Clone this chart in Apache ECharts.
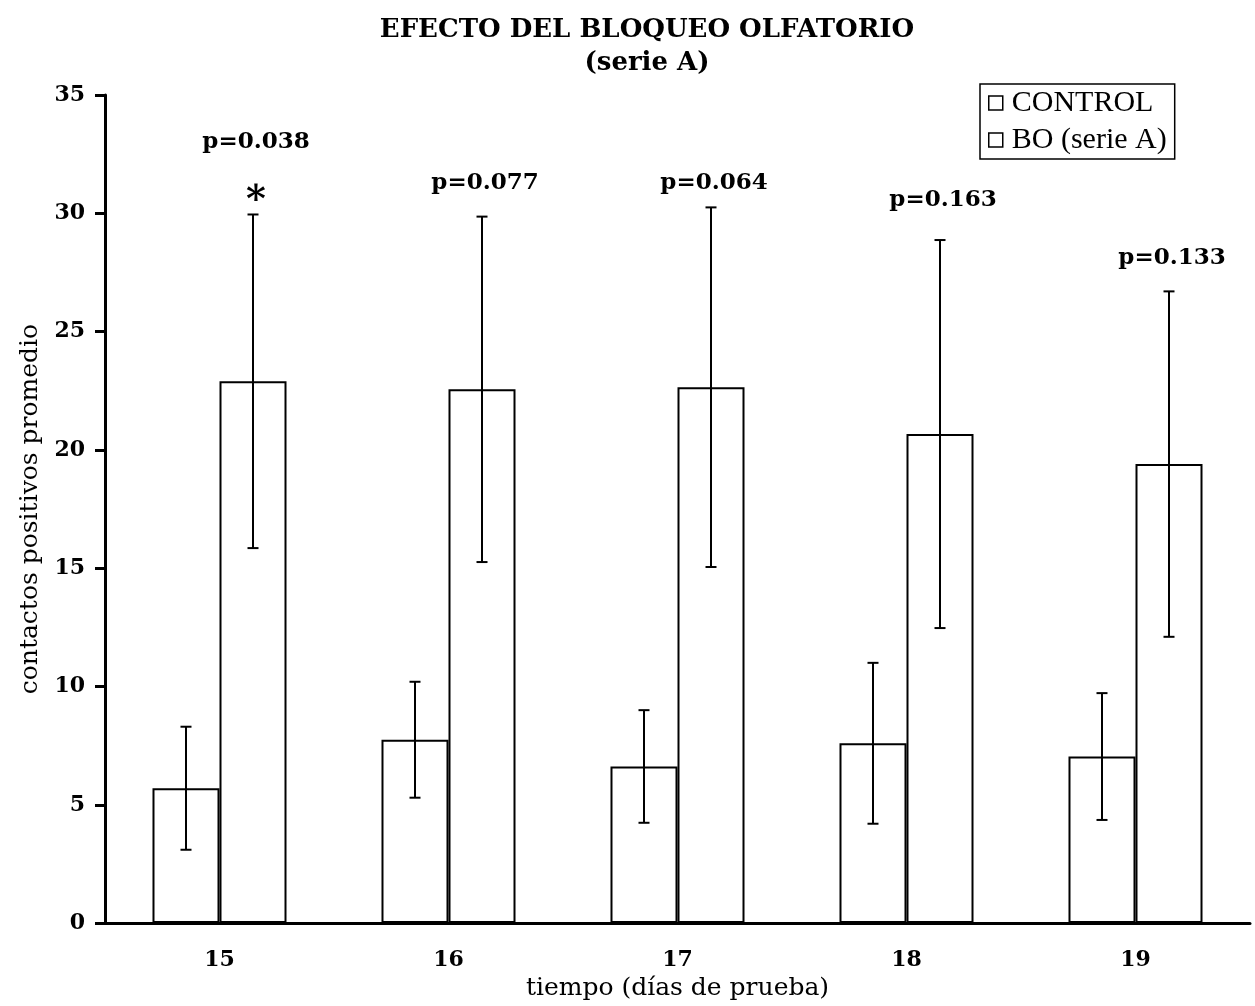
<!DOCTYPE html>
<html>
<head>
<meta charset="utf-8">
<script src="https://cdn.jsdelivr.net/npm/echarts@6/dist/echarts.min.js"></script>
<style>html,body{margin:0;padding:0;background:#fff}#c{width:1255px;height:1006px}</style>
</head>
<body>
<div id="c"></div>
<script>
var categories = ['15', '16', '17', '18', '19'];
var controlMean = [5.7, 7.75, 6.62, 7.6, 7.04];
var controlErr = [2.6, 2.45, 2.38, 3.4, 2.68];
var boMean = [22.9, 22.56, 22.65, 20.67, 19.4];
var boErr = [7.05, 7.3, 7.6, 8.2, 7.3];
var pLabels = ['p=0.038', 'p=0.077', 'p=0.064', 'p=0.163', 'p=0.133'];
var pLabelY = [33.0, 31.3, 31.3, 30.58, 28.13];
var starLabels = ['*', '', '', '', ''];
var starY = [30.5, 0, 0, 0, 0];
var yTicks = [0, 35, 5];

var SERIF = '"DejaVu Serif", serif';
var chart = echarts.init(document.getElementById('c'));

function errData(mean, err) {
  return mean.map(function (m, i) { return [i, m - err[i], m + err[i]]; });
}
function errRender(sign) {
  return function (params, api) {
    var i = api.value(0), lo = api.value(1), hi = api.value(2);
    var band = api.size([1, 0])[0];
    var off = sign * band * 0.1463;
    var p1 = api.coord([i, hi]), p2 = api.coord([i, lo]);
    var cx = p1[0] + off, cap = 5.5;
    var st = { stroke: '#000', lineWidth: 2 };
    return { type: 'group', children: [
      { type: 'line', shape: { x1: cx, y1: p1[1], x2: cx, y2: p2[1] }, style: st },
      { type: 'line', shape: { x1: cx - cap, y1: p1[1], x2: cx + cap, y2: p1[1] }, style: st },
      { type: 'line', shape: { x1: cx - cap, y1: p2[1], x2: cx + cap, y2: p2[1] }, style: st }
    ]};
  };
}
function textRender(labels, size) {
  return function (params, api) {
    var i = api.value(0), y = api.value(1);
    var t = labels[i];
    if (!t) return null;
    var band = api.size([1, 0])[0];
    var p = api.coord([i, y]);
    return { type: 'text', x: p[0] + band * 0.1463 + 3, y: p[1],
      style: { text: t, fill: '#000', font: 'bold ' + size + 'px ' + SERIF, align: 'center', verticalAlign: 'middle' } };
  };
}

var barStyle = { color: '#fff', borderColor: '#000', borderWidth: 2 };

chart.setOption({
  animation: false,
  backgroundColor: '#fff',
  graphic: [
    { type: 'text', x: 647, y: 30, style: { text: 'EFECTO DEL BLOQUEO OLFATORIO', font: 'bold 26px ' + SERIF, fill: '#000', align: 'center', verticalAlign: 'middle' } },
    { type: 'text', x: 647, y: 63, style: { text: '(serie A)', font: 'bold 26px ' + SERIF, fill: '#000', align: 'center', verticalAlign: 'middle' } }
  ],
  legend: {
    orient: 'vertical', left: 980, top: 84,
    padding: [4, 8, 4, 8], itemGap: 7,
    borderColor: '#000', borderWidth: 1.5,
    itemWidth: 14, itemHeight: 14, icon: 'rect',
    itemStyle: { color: '#fff', borderColor: '#000', borderWidth: 1.5 },
    textStyle: { fontFamily: '"Liberation Serif", serif', fontSize: 30, color: '#000', padding: [0, 0, 0, 4] },
    data: ['CONTROL', 'BO (serie A)']
  },
  grid: { left: 105, width: 1145, top: 95, height: 830 },
  xAxis: {
    type: 'category', data: categories,
    axisLine: { lineStyle: { color: '#000', width: 3 } },
    axisTick: { length: 10, lineStyle: { color: '#000', width: 3 } },
    axisLabel: { color: '#000', fontFamily: SERIF, fontWeight: 'bold', fontSize: 22, margin: 26 },
    name: 'tiempo (días de prueba)', nameLocation: 'middle', nameGap: 52,
    nameTextStyle: { color: '#000', fontFamily: SERIF, fontSize: 25 }
  },
  yAxis: {
    type: 'value', min: yTicks[0], max: yTicks[1], interval: yTicks[2],
    axisLine: { show: true, lineStyle: { color: '#000', width: 3 } },
    axisTick: { show: true, length: 10, lineStyle: { color: '#000', width: 3 } },
    splitLine: { show: false },
    axisLabel: { color: '#000', fontFamily: SERIF, fontWeight: 'bold', fontSize: 22, margin: 20 },
    name: 'contactos positivos promedio', nameLocation: 'middle', nameGap: 60, nameRotate: 90,
    nameTextStyle: { color: '#000', fontFamily: SERIF, fontSize: 25 }
  },
  series: [
    { name: 'CONTROL', type: 'bar', data: controlMean, barWidth: '29.26%', barGap: '0%', itemStyle: barStyle },
    { name: 'BO (serie A)', type: 'bar', data: boMean, barWidth: '29.26%', barGap: '0%', itemStyle: barStyle },
    { type: 'custom', data: errData(controlMean, controlErr), renderItem: errRender(-1), z: 5, silent: true },
    { type: 'custom', data: errData(boMean, boErr), renderItem: errRender(1), z: 5, silent: true },
    { type: 'custom', data: pLabelY.map(function (v, i) { return [i, v]; }), renderItem: textRender(pLabels, 23), z: 6, silent: true },
    { type: 'custom', data: starY.map(function (v, i) { return [i, v]; }), renderItem: textRender(starLabels, 38), z: 6, silent: true }
  ]
});
</script>
</body>
</html>
